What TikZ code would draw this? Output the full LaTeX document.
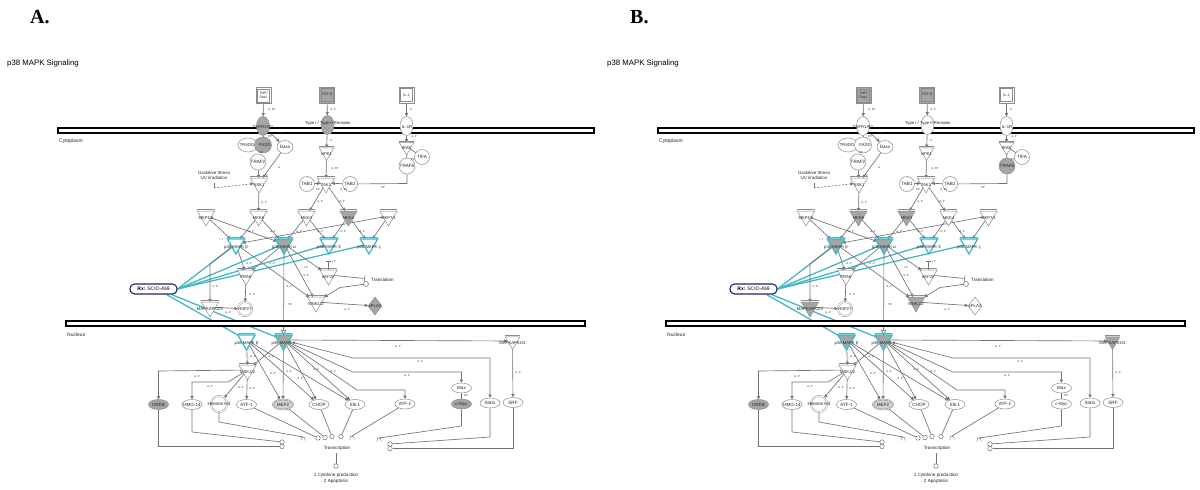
\documentclass[tikz,border=0pt]{standalone}
\usepackage{fontspec}
\setmainfont{Liberation Sans}
\newfontfamily\titleserif{Liberation Serif}
\usetikzlibrary{shapes.geometric,arrows.meta}
\pgfdeclarelayer{back}
\pgfdeclarelayer{bg}
\pgfsetlayers{back,bg,main}
\definecolor{cyanc}{RGB}{68,184,196}
\definecolor{navyc}{RGB}{32,36,112}
\definecolor{gfill}{RGB}{165,165,165}
\definecolor{lgfill}{RGB}{212,212,212}
\definecolor{edgec}{RGB}{115,115,115}
\definecolor{bordc}{RGB}{140,140,140}
\tikzset{
  kin/.style={regular polygon, regular polygon sides=3, shape border rotate=180,
    minimum size=20pt, inner sep=0pt, outer sep=0pt, draw=bordc, line width=0.5pt},
  pkn/.style={kin, draw=cyanc, line width=1.3pt},
  ov/.style={ellipse, draw=bordc, line width=0.5pt, inner sep=0pt, minimum width=20pt, minimum height=10pt, fill=white},
  rnd/.style={circle, draw=bordc, line width=0.5pt, inner sep=0pt, minimum size=15pt, fill=white},
  dbl/.style={circle, draw=bordc, line width=0.4pt, double=white, double distance=0.9pt, inner sep=0pt, fill=white},
  lig/.style={rectangle, draw=bordc, line width=0.5pt, minimum width=15pt, minimum height=16pt, inner sep=0pt},
  rec/.style={ellipse, draw=bordc, line width=0.5pt, minimum width=13pt, minimum height=19pt, inner sep=0pt},
  tcirc/.style={circle, draw=edgec, line width=0.5pt, minimum size=4.5pt, inner sep=0pt, fill=white},
  tx/.style={font=\fontsize{4.6}{5.4}\selectfont, inner sep=0pt, text=black!85, align=center},
  ktx/.style={font=\fontsize{4.2}{5}\selectfont, inner sep=0pt, text=black!85},
  elab/.style={font=\fontsize{2.8}{3.2}\selectfont, inner sep=0pt, text=black!80},
  sm/.style={font=\fontsize{5}{6}\selectfont, inner sep=0pt, text=black!85},
  ed/.style={draw=edgec, line width=0.65pt, -{Triangle[length=3.2pt,width=3.2pt]}},
  ln/.style={draw=edgec, line width=0.65pt},
  cy/.style={draw=cyanc, line width=1.3pt},
  membr/.style={draw=black, line width=1.3pt, fill=white},
}
\newcommand\kinase[6][kin]{%
  \node[#1, fill=#5] (#2) at (#3,#4) {};
  \draw[bordc, line width=0.4pt] ([yshift=1.4pt]#2.corner 2) -- ([yshift=1.4pt]#2.corner 3);
  \node[ktx] at ([yshift=-2pt]#2.center) {#6};}
\newcommand\pkin[5]{%
  \node[pkn, fill=#4] (#1) at (#2,#3) {};
  \draw[cyanc, line width=0.6pt] ([yshift=1.7pt]#1.corner 2) -- ([yshift=1.7pt]#1.corner 3);
  \node[ktx] at ([yshift=-3.5pt]#1.center) {#5};}
\newcommand\lbl[2]{\node[tx] at (#1) {#2};}
\newcommand\eL[3]{\node[elab] at (#1,#2) {#3};}
\newcommand\arcmark[2]{\draw[ln, line width=0.5pt] (#1-2,#2+1.5) -- (#1-2,#2) .. controls (#1-2,#2-2.7) and (#1+2,#2-2.7) .. (#1+2,#2) -- (#1+2,#2+1.5);}

\newcommand\drawpanel{%
  % membranes
  \draw[membr] (58,128) rectangle (594,133);
  \draw[membr] (66,321) rectangle (585,326);
  \node[sm, anchor=west] (cyto) at (59,141) {Cytoplasm};
  \node[sm, anchor=west] (nucl) at (67,335) {Nucleus};
  % ligands
  \node[lig, fill=\cTNF] (tnf) at (263.5,95.5) {};
  \draw[bordc, line width=0.4pt] ([shift={(1.8pt,1.8pt)}]tnf.south west) rectangle ([shift={(-1.8pt,-1.8pt)}]tnf.north east);
  \node[tx, font=\fontsize{3.6}{4.2}\selectfont] at (tnf) {TNF/\\FasL};
  \node[lig, fill=\cTGF] (tgf) at (327,95) {};
  \draw[bordc, line width=0.4pt] ([shift={(1.8pt,1.8pt)}]tgf.south west) rectangle ([shift={(-1.8pt,-1.8pt)}]tgf.north east);
  \node[tx, font=\fontsize{3.6}{4.2}\selectfont] at (tgf) {TGF-β};
  \node[lig, fill=white] (il1) at (406.5,95) {};
  \draw[bordc, line width=0.4pt] ([shift={(1.8pt,1.8pt)}]il1.south west) rectangle ([shift={(-1.8pt,-1.8pt)}]il1.north east);
  \node[tx, font=\fontsize{3.6}{4.2}\selectfont] at (il1) {IL-1};
  % receptors
  \node[rec, fill=\cTNFR] (tnfr) at (263,126) {};
  \node[ktx] at (263,127) {TNFR1/R2};
  \node[rec, fill=\cTGFR] (tgfr) at (327.5,125) {};
  \node[ktx] at (328,123) {Type I / Type II Receptor};
  \node[rec, fill=white] (il1r) at (406.5,126) {};
  \node[ktx] at (407,127) {IL-1R};
  % TNF complex
  \node[ov, minimum width=20pt, minimum height=14pt] (tradd) at (248,145) {};
  \node[ov, minimum width=17pt, minimum height=16pt, fill=\cFADD] (fadd) at (263,145) {};
  \node[ktx] at (247,145) {TRADD};
  \node[ktx] at (265,145) {FADD};
  \node[ov, minimum width=16pt, minimum height=13pt] (daxx) at (285,147) {};
  \lbl{daxx}{Daxx}
  \node[rnd, minimum size=16pt] (traf2) at (258,162) {};
  \lbl{traf2}{TRAF2}
  \kinase{ask}{259}{183}{white}{ASK1}
  \node[tx, font=\fontsize{4.4}{5.5}\selectfont] (oxs) at (214,175.5) {Oxidative Stress\\UV irradiation};
  \coordinate (oxt) at (214,183);
  \coordinate (ox) at (214,188);
  % TGF branch
  \kinase[kin, minimum size=17pt]{hpk}{326.5}{152}{white}{HPK1}
  \kinase{tak}{326}{183}{white}{TAK1}
  \node[rnd] (tab1) at (307,184) {}; \lbl{tab1}{TAB1}
  \node[rnd] (tab2) at (350,184) {}; \lbl{tab2}{TAB2}
  % IL-1 branch
  \node[rnd] (tifa) at (422,157) {}; \lbl{tifa}{TIFA}
  \node[rnd, minimum size=16pt, fill=\cTRAF] (traf6) at (407,166) {}; \lbl{traf6}{TRAF6}
  \kinase[kin, minimum size=17pt]{irak}{406.5}{146.5}{white}{IRAK}
  % MKK row
  \kinase{mkpl}{206}{216}{white}{MKP1/5}
  \kinase{mkk6}{258.5}{216}{\cMKKs}{MKK6}
  \kinase{mkk3}{306.5}{216}{\cMKKt}{MKK3}
  \kinase{mkk4}{348.5}{216}{\cMKKf}{MKK4}
  \kinase{mkpr}{388.5}{216}{white}{MKP7/1}
  % p38 row
  \pkin{p38b}{236}{244}{\cPB}{p38 MAPK β}
  \pkin{p38a}{284}{244}{\cPA}{p38 MAPK α}
  \pkin{p38d}{329}{244}{white}{p38 MAPK δ}
  \pkin{p38g}{369}{244}{white}{p38 MAPK γ}
  % lower cytoplasm
  \kinase{prak}{246}{275}{white}{PRAK}
  \kinase{eif}{328.5}{275}{white}{eEF2K}
  \kinase{mapkapk}{210}{307}{\cMAPK}{MAPKAPK2/3}
  \kinase{mnk}{316}{302}{\cMNK}{MNK1/2}
  \node[dbl, minimum size=14pt] (hsp) at (245,309) {}; \node[ktx] at (hsp) {HSP27};
  \node[diamond, draw=bordc, line width=0.5pt, fill=\cCPLA, minimum width=14pt, minimum height=18pt, inner sep=0pt] (cpla) at (375,306) {};
  \node[ktx] at (cpla) {cPLA2};
  \coordinate (tlbar) at (365,278.5);
  \coordinate (eifbar) at (328.5,261);
  \node[tcirc, minimum size=5pt] (trc) at (366,284) {};
  \node[tx, anchor=west] (transl) at (371,279.5) {Translation};
  \node[draw=navyc, line width=1.1pt, rounded corners=4.5pt, minimum width=47pt, minimum height=10pt, inner sep=0pt, fill=white, font=\fontsize{5}{6}\selectfont] (rx) at (153.5,289) {\textbf{Rx:} SCIO-469};
  % nucleus
  \pkin{np38b}{246.5}{340}{\cNB}{p38 MAPK β}
  \pkin{np38a}{283.5}{340}{\cNA}{p38 MAPK α}
  \kinase{msk}{247.5}{370}{white}{MSK1/2}
  \kinase[kin, minimum size=17pt]{nmapk}{512.5}{341}{\cNM}{MAPKAPK2/3}
  \node[ov, fill=\cCREB] (creb) at (158.5,404.5) {}; \lbl{creb}{CREB}
  \node[ov] (hmg) at (192,404.5) {}; \lbl{hmg}{HMG-14}
  \node[dbl, minimum size=16pt] (hist) at (219,404) {}; \lbl{hist}{Histone H3}
  \node[ov] (atf1) at (246.5,404.5) {}; \lbl{atf1}{ATF-1}
  \node[ov, fill=lgfill, double=lgfill, double distance=0.8pt, line width=0.4pt] (mef2) at (283,404.5) {}; \lbl{mef2}{MEF2}
  \node[ov] (chop) at (319,404.5) {}; \lbl{chop}{CHOP}
  \node[ov] (elk1) at (355,404.5) {}; \lbl{elk1}{Elk-1}
  \node[ov] (atf2) at (405,404) {}; \lbl{atf2}{ATF-2}
  \node[ov] (max) at (461.5,388) {}; \lbl{max}{Max}
  \node[ov, fill=\cMYC] (cmyc) at (461.5,404) {}; \lbl{cmyc}{c-Myc}
  \node[ov] (stat1) at (490,403) {}; \lbl{stat1}{Stat1}
  \node[ov] (srf) at (513,402.5) {}; \lbl{srf}{SRF}
  % transcription
  \node[tcirc] (t1) at (282,442) {};
  \node[tcirc] (t2) at (282,446.5) {};
  \node[tcirc] (t3) at (318,438) {};
  \node[tcirc] (t4) at (325,437.5) {};
  \node[tcirc] (t5) at (332,436.5) {};
  \node[tcirc] (t6) at (341,436.5) {};
  \node[tcirc] (t7) at (390,444) {};
  \node[tcirc] (t8) at (390,448.5) {};
  \arcmark{303}{439}
  \arcmark{352}{438}
  \arcmark{379}{440}
  \node[tx] (transc) at (337,448) {Transcription};
  \coordinate (tb) at (336,453);
  \node[tcirc] (t9) at (336,466) {};
  \node[tx] (outc) at (336,478.5) {1 Cytokine production\\2 Apoptosis};
  % edge labels
  \eL{272}{110}{A, PP} \eL{333}{110}{A, P} \eL{411}{110}{P}
  \eL{281}{134}{PP} \eL{270}{137}{PP} \eL{261}{153}{PP}
  \eL{266}{176}{PP} \eL{279}{168}{A}
  \eL{331}{141}{P} \eL{335}{169}{A, PP} \eL{318}{190}{PP} \eL{344}{190}{A, PP}
  \eL{414}{137}{A, P} \eL{413}{160}{PP} \eL{383}{188}{PP}
  \eL{264}{203}{A, P} \eL{320}{202}{A, P} \eL{342}{202}{A, P}
  \eL{251}{232}{A, P} \eL{273}{232}{A, P} \eL{299}{232}{A, P} \eL{320}{232}{A, P} \eL{343}{232}{A, P} \eL{362}{232}{A, P}
  \eL{221}{240}{I, T}
  \eL{215}{287}{A, P} \eL{249}{264}{A, P} \eL{272}{264}{A, P}
  \eL{306}{268}{I, P} \eL{306}{276}{A, P} \eL{334}{262}{I, P}
  \eL{289}{287}{A, P} \eL{290}{305}{TR}
  \eL{252}{295}{A, P} \eL{228}{313}{A, P} \eL{347}{310}{A, P}
  \eL{253}{357}{A, P} \eL{271}{357}{A, P}
  \eL{197}{377}{A, P} \eL{210}{387}{A, P} \eL{241}{388}{A, P} \eL{252}{389}{A, P}
  \eL{273}{374}{A, P} \eL{289}{372}{A, P} \eL{300}{379}{A, P} \eL{316}{370}{A, P} \eL{333}{372}{A, P}
  \eL{398}{347}{A, P} \eL{420}{362}{A, P} \eL{407}{376}{A, P} \eL{518}{373}{A, P} \eL{466}{396}{PP}
  % connectors
  \begin{pgfonlayer}{bg}
    \draw[ed] (tnf) -- (tnfr);
    \draw[ed] (tgf) -- (tgfr);
    \draw[ed] (il1) -- (il1r);
    \draw[ed] (tnfr) -- (daxx);
    \draw[ln] (tnfr) -- (fadd);
    \draw[ed] (traf2) -- (ask);
    \draw[ed] (daxx) -- (ask);
    \draw[ln] (oxt) -- (ox);
    \draw[ed, dash pattern=on 2pt off 1.5pt] (ox) -- (ask);
    \draw[ed] (tgfr) -- (hpk);
    \draw[ed] (hpk) -- (tak);
    \draw[ed] (tab1) -- (tak);
    \draw[ed] (tab2) -- (tak);
    \draw[ed] (il1r) -- (irak);
    \draw[ln] (irak) -- (tifa);
    \draw[ln] (irak) -- (traf6);
    \draw[ln] (traf6) -- (407,183.5) -- (tab2);
    \draw[ed] (ask) -- (mkk6);
    \draw[ed] (tak) -- (mkk3);
    \draw[ed] (tak) -- (mkk4);
    \draw[ed] (mkk6) -- (p38b);
    \draw[ed] (mkk6) -- (p38a);
    \draw[ed] (mkk3) -- (p38a);
    \draw[ed] (mkk3) -- (p38d);
    \draw[ed] (mkk4) -- (p38d);
    \draw[ed] (mkk4) -- (p38g);
    \draw[ed] (mkpl) -- (p38b);
    \draw[ed] (mkpl) -- (p38a);
    \draw[ed] (mkpr) -- (p38g);
    \draw[ed] (mkpr) -- (p38b);
    \draw[cy] (rx.east) -- (p38b.center);
    \draw[cy] (rx.east) -- (p38a.center);
    \draw[cy] (rx.east) -- (p38d.center);
    \draw[cy] (rx.east) -- (p38g.center);
    \draw[cy] ([xshift=-11pt]rx.south east) -- (np38b.center);
    \draw[cy] ([xshift=-6pt]rx.south east) -- (np38a.center);
    \draw[ed] (p38b) -- (210,264) -- (mapkapk);
    \draw[ed] (p38b) -- (prak);
    \draw[ed] (p38a) -- (prak);
    \draw[ed] (p38b) -- (mnk);
    \draw[ed] (p38a) -- (mnk);
    \draw[ed] (p38a) -- (eif);
    \draw[ln, -{Bar[width=5pt]}] (eif) -- (eifbar);
    \draw[ln, -{Triangle[open, length=5pt, width=5.5pt]}] (p38a) -- (np38a);
    \draw[ed] (prak) -- (hsp);
    \draw[ed] (mapkapk) -- (hsp);
    \draw[ed] (mnk) -- (cpla);
    \draw[ln, -{Bar[width=6pt]}] (eif) -- (tlbar);
    \draw[ed] (trc) -- (340,287.5) -- (mnk);
    \draw[ed] (np38b) -- (msk);
    \draw[ed] (np38a) -- (msk);
    \draw[ed] (msk) -- (158.5,371) -- (creb);
    \draw[ed] (msk) -- (228,382) -- (192,382) -- (hmg);
    \draw[ed] (msk) -- (hist);
    \draw[ed] (msk) -- (atf1);
    \draw[ed] (np38b) -- (mef2);
    \draw[ed] (np38b) -- (chop);
    \draw[ed] (np38b) -- (elk1);
    \draw[ed] (np38a) -- (mef2);
    \draw[ed] (np38a) -- (chop);
    \draw[ed] (np38a) -- (elk1);
    \draw[ed] (np38a) -- (nmapk);
    \draw[ed] (np38a) -- (353,358) -- (490,358) -- (stat1);
    \draw[ed] (np38a) -- (353,372) -- (461.5,372) -- (max);
    \draw[ed] (np38a) -- (357,390) -- (405,390) -- (atf2);
    \draw[ed] (nmapk) -- (srf);
    \draw[ln] (max) -- (cmyc);
    \draw[ln] (creb) -- (158.5,446.5) -- (t2);
    \draw[ln] (hmg) -- (192,432) -- (t1);
    \draw[ln] (hist) -- (219,422) -- (303,437);
    \draw[ln] (atf1) -- (t3);
    \draw[ln] (mef2) -- (t4);
    \draw[ln] (chop) -- (t5);
    \draw[ln] (elk1) -- (t6);
    \draw[ln] (atf2) -- (352,436);
    \draw[ln] (cmyc) -- (461.5,426) -- (379,438);
    \draw[ln] (stat1) -- (490,437) -- (t7);
    \draw[ln] (srf) -- (513,448.5) -- (t8);
    \draw[ln] (tb) -- (t9);
  \end{pgfonlayer}
}

\begin{document}
\begin{tikzpicture}[x=1pt,y=-1pt]
\useasboundingbox (0,0) rectangle (1200,490);
\begin{pgfonlayer}{back}
\fill[white] (0,0) rectangle (1200,490);
\end{pgfonlayer}
\begin{scope}[name prefix=A-]
  \def\cTNF{white}\def\cTGF{gfill}\def\cTNFR{gfill}\def\cTGFR{gfill}\def\cFADD{gfill}\def\cTRAF{white}
  \def\cMKKs{white}\def\cMKKt{white}\def\cMKKf{gfill}\def\cPB{white}\def\cPA{gfill}
  \def\cMAPK{white}\def\cMNK{white}\def\cCPLA{gfill}\def\cNB{white}\def\cNA{gfill}\def\cNM{white}
  \def\cCREB{gfill}\def\cMYC{gfill}
  \node[font=\titleserif\bfseries\fontsize{20}{20}\selectfont, anchor=base west, inner sep=0pt] (ttl) at (30,23) {A.};
  \node[font=\fontsize{7.8}{9}\selectfont, anchor=base west, inner sep=0pt] (hd) at (7,65) {p38 MAPK Signaling};
  \drawpanel
\end{scope}
\begin{scope}[name prefix=B-, xshift=600pt]
  \def\cTNF{gfill}\def\cTGF{gfill}\def\cTNFR{white}\def\cTGFR{white}\def\cFADD{white}\def\cTRAF{gfill}
  \def\cMKKs{gfill}\def\cMKKt{gfill}\def\cMKKf{white}\def\cPB{gfill}\def\cPA{gfill}
  \def\cMAPK{gfill}\def\cMNK{gfill}\def\cCPLA{white}\def\cNB{gfill}\def\cNA{gfill}\def\cNM{gfill}
  \def\cCREB{gfill}\def\cMYC{white}
  \node[font=\titleserif\bfseries\fontsize{20}{20}\selectfont, anchor=base west, inner sep=0pt] (ttl) at (30,23) {B.};
  \node[font=\fontsize{7.8}{9}\selectfont, anchor=base west, inner sep=0pt] (hd) at (7,65) {p38 MAPK Signaling};
  \drawpanel
\end{scope}
\end{tikzpicture}
\end{document}
